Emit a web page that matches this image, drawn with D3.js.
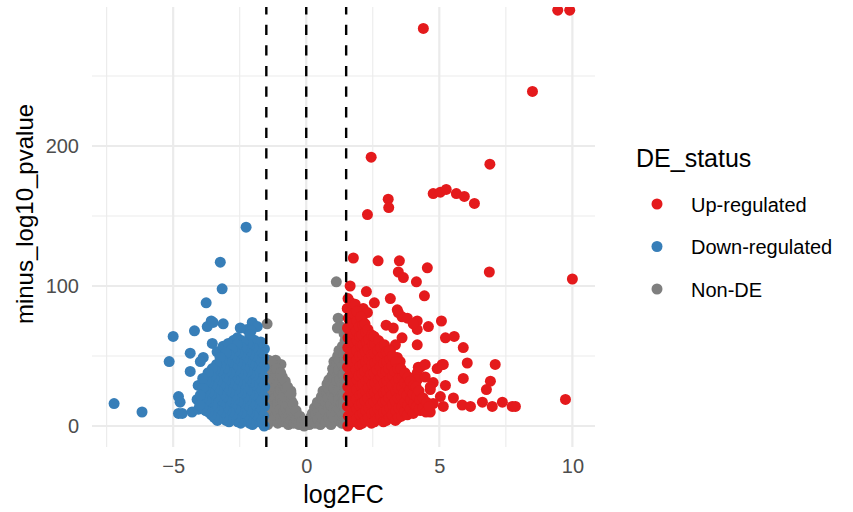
<!DOCTYPE html>
<html>
<head>
<meta charset="utf-8">
<script src="https://cdn.jsdelivr.net/npm/d3@7"></script>
<style>
  body { margin: 0; background: #fff; }
  svg { display: block; font-family: "Liberation Sans", Arial, sans-serif; }
</style>
</head>
<body>
<svg id="chart" width="853" height="512"></svg>
<script>
// values: [log2FC, minus_log10_pvalue]
const up_regulated = [
  [4.4,284],[9.45,297],[9.9,297],[8.5,239],[2.44,192],[6.9,187],[3.08,162],[3.1,156],[2.3,151],
  [4.77,166],[5.04,167],[5.26,169],[5.64,166],[5.94,164],[6.32,159],
  [1.77,120],[2.7,118],[3.5,118],[3.46,110],[3.65,106],[4.14,103],[4.55,113],[6.88,110],[10.0,105],
  [1.65,100],[2.26,96],[3.16,91],[4.44,93],[2.56,88],[1.54,84],[2.14,84],[2.3,81],[2.1,76],[3.46,81],
  [3.6,78],[4.17,75],[5.08,75],[4.59,71],[3.0,72],[1.65,74],[3.42,83],[3.8,77],[4.17,69],[4.02,73],
  [3.27,70],[3.6,63],[3.35,58],[3.16,54],[2.78,56],[3.42,49],[3.53,46],[4.21,42],[4.17,38],[3.46,39],[3.53,34],
  [5.23,63],[5.56,64],[5.9,56],[4.17,58],[6.05,45],[7.1,44],[5.11,44],[5.9,34],[6.92,32],[6.77,26],[9.74,19],
  [5.53,20],[5.86,15],[6.17,14],[6.62,17],[6.99,14],[7.37,17],[7.74,14],[7.86,14],[5.15,14],[5.23,29],
  [4.92,41],[5.15,44],[4.29,42],[4.47,44],[4.77,31],[4.66,28],[4.17,33],[4.47,35],[4.66,26],
  [4.02,20],[4.4,17],[4.77,16],[5.04,21],[4.29,11],[4.66,10],
  [1.56,0],[1.58,7],[1.55,14],[1.57,21],[1.56,28],[1.59,35],[1.55,42],[1.58,49],[1.56,56],[1.57,63],[1.55,70],[1.58,77],[1.56,84],[1.57,91],
  [1.67,4],[1.68,11],[1.66,18],[1.67,25],[1.69,32],[1.66,39],[1.68,46],[1.67,53],[1.69,60],[1.66,67],[1.68,74],[1.67,81],[1.69,88],
  [1.78,3],[1.8,10],[1.77,17],[1.79,24],[1.81,31],[1.76,38],[1.8,45],[1.78,52],[1.82,59],[1.79,66],[1.77,73],[1.81,80],[1.84,87],
  [1.89,5],[1.9,12],[1.88,19],[1.89,26],[1.91,33],[1.88,40],[1.9,47],[1.89,54],[1.91,61],[1.88,68],[1.9,75],[1.89,82],
  [2.0,1],[2.02,8],[1.99,15],[2.01,22],[2.03,29],[1.98,36],[2.02,43],[2.0,50],[2.04,57],[2.01,64],[1.99,71],[2.05,78],
  [2.11,2],[2.12,9],[2.1,16],[2.11,23],[2.13,30],[2.1,37],[2.12,44],[2.11,51],[2.13,58],[2.1,65],[2.12,72],
  [2.22,4],[2.24,11],[2.21,18],[2.23,25],[2.25,32],[2.2,39],[2.24,46],[2.22,53],[2.26,60],[2.23,67],[2.21,73],
  [2.33,6],[2.34,13],[2.32,20],[2.33,27],[2.35,34],[2.32,41],[2.34,48],[2.33,55],[2.35,62],[2.32,69],
  [2.45,2],[2.47,9],[2.44,16],[2.46,23],[2.48,30],[2.43,37],[2.47,44],[2.45,51],[2.49,58],[2.46,65],
  [2.56,3],[2.57,10],[2.55,17],[2.56,24],[2.58,31],[2.55,38],[2.57,45],[2.56,52],[2.58,59],[2.55,64],
  [2.68,5],[2.7,12],[2.67,19],[2.69,26],[2.71,33],[2.66,40],[2.7,47],[2.68,54],[2.72,61],
  [2.79,7],[2.8,14],[2.78,21],[2.79,28],[2.81,35],[2.78,42],[2.8,49],[2.79,56],
  [2.9,3],[2.92,10],[2.89,17],[2.91,24],[2.93,31],[2.88,38],[2.92,45],[2.9,52],[2.94,58],
  [3.01,4],[3.02,11],[3.0,18],[3.01,25],[3.03,32],[3.0,39],[3.02,46],[3.01,53],
  [3.12,6],[3.14,13],[3.11,20],[3.13,27],[3.15,34],[3.1,41],[3.14,48],[3.12,54],
  [3.23,8],[3.24,15],[3.22,22],[3.23,29],[3.25,36],[3.22,43],[3.24,50],
  [3.35,4],[3.37,11],[3.34,18],[3.36,25],[3.38,32],[3.33,39],[3.37,46],
  [3.46,6],[3.47,13],[3.45,20],[3.46,27],[3.48,34],[3.45,41],
  [3.58,7],[3.6,14],[3.57,21],[3.59,28],[3.61,35],[3.56,41],
  [3.69,10],[3.7,17],[3.68,24],[3.69,31],[3.71,38],
  [3.8,8],[3.82,15],[3.79,22],[3.81,29],[3.83,35],
  [3.91,12],[3.92,19],[3.9,26],[3.91,32],
  [4.02,9],[4.04,16],[4.01,23],[4.03,29],
  [4.14,14],[4.15,21],[4.13,28],
  [4.25,12],[4.27,19],[4.24,25],
  [4.38,13],[4.39,20],
  [4.5,10],[4.52,17],[4.62,14]
]

const down_regulated = [
  [-2.26,142],[-3.23,117],[-3.16,98],[-3.76,88],[-3.57,75],[-3.72,71],[-3.12,73],[-4.2,68],[-5.0,64],
  [-5.15,46],[-4.36,52],[-4.36,39],[-7.22,16],[-6.17,10],[-4.8,21],[-4.74,17],[-4.8,9],[-4.66,9],[-4.29,10],
  [-2.03,74],[-1.84,71],[-2.22,69],[-2.48,70],[-2.59,63],[-2.74,61],[-3.53,59],[-3.35,53],[-3.12,57],
  [-3.16,49],[-1.84,58],[-3.87,49],[-4.06,29],[-3.5,74],[-2.07,68],[-2.44,61],[-2.93,59],[-3.98,46],
  [-4.1,19],[-4.05,12],
  [-1.58,0],[-1.6,7],[-1.57,14],[-1.59,21],[-1.56,28],[-1.61,35],[-1.58,42],[-1.6,49],[-1.57,55],
  [-1.69,4],[-1.7,11],[-1.68,18],[-1.69,25],[-1.71,32],[-1.68,39],[-1.7,46],[-1.69,53],[-1.71,60],
  [-1.8,3],[-1.78,10],[-1.82,17],[-1.79,24],[-1.81,31],[-1.77,38],[-1.83,45],[-1.8,52],[-1.84,58],
  [-1.91,5],[-1.92,12],[-1.9,19],[-1.91,26],[-1.93,33],[-1.9,40],[-1.92,47],[-1.91,54],[-1.93,61],
  [-2.02,1],[-2.0,8],[-2.04,15],[-2.01,22],[-2.03,29],[-1.99,36],[-2.05,43],[-2.02,50],[-2.0,56],[-2.06,62],
  [-2.13,2],[-2.14,9],[-2.12,16],[-2.13,23],[-2.15,30],[-2.12,37],[-2.14,44],[-2.13,51],[-2.15,57],[-2.12,65],
  [-2.24,4],[-2.22,11],[-2.26,18],[-2.23,25],[-2.25,32],[-2.21,39],[-2.27,46],[-2.24,53],[-2.2,59],
  [-2.35,6],[-2.36,13],[-2.34,20],[-2.35,27],[-2.37,34],[-2.34,41],[-2.36,48],[-2.35,55],[-2.37,60],
  [-2.46,2],[-2.44,9],[-2.48,16],[-2.45,23],[-2.47,30],[-2.43,37],[-2.49,44],[-2.46,51],[-2.42,56],
  [-2.57,3],[-2.58,10],[-2.56,17],[-2.57,24],[-2.59,31],[-2.56,38],[-2.58,45],[-2.57,52],[-2.59,58],
  [-2.68,5],[-2.66,12],[-2.7,19],[-2.67,26],[-2.69,33],[-2.65,40],[-2.71,47],[-2.68,53],
  [-2.79,7],[-2.8,14],[-2.78,21],[-2.79,28],[-2.81,35],[-2.78,42],[-2.8,49],[-2.79,55],
  [-2.9,3],[-2.88,10],[-2.92,17],[-2.89,24],[-2.91,31],[-2.87,38],[-2.93,45],[-2.9,51],
  [-3.01,4],[-3.02,11],[-3.0,18],[-3.01,25],[-3.03,32],[-3.0,39],[-3.02,46],[-3.01,52],
  [-3.12,6],[-3.1,13],[-3.14,20],[-3.11,27],[-3.13,34],[-3.09,41],[-3.15,47],
  [-3.23,8],[-3.24,15],[-3.22,22],[-3.23,29],[-3.25,36],[-3.22,43],[-3.24,49],
  [-3.34,4],[-3.32,11],[-3.36,18],[-3.33,25],[-3.35,32],[-3.31,39],[-3.37,44],
  [-3.45,6],[-3.46,13],[-3.44,20],[-3.45,27],[-3.47,34],[-3.44,40],
  [-3.56,8],[-3.54,15],[-3.58,22],[-3.55,29],[-3.57,36],[-3.53,41],
  [-3.67,10],[-3.68,17],[-3.66,24],[-3.67,31],[-3.69,38],
  [-3.78,11],[-3.76,18],[-3.8,25],[-3.77,32],
  [-3.89,13],[-3.9,20],[-3.88,27],[-3.89,34],
  [-4.0,15],[-3.98,22]
]

const non_de = [
  [-1.47,73],[1.13,103],[1.2,77],[1.28,71],[1.17,70],[1.42,66],[-0.95,44],[-1.15,47],[-0.58,25],
  [-1.45,1],[-1.47,8],[-1.44,15],[-1.46,22],[-1.43,29],[-1.47,36],[-1.44,42],[-1.42,47],
  [-1.36,5],[-1.37,12],[-1.35,19],[-1.36,26],[-1.38,33],[-1.35,40],[-1.37,46],
  [-1.27,4],[-1.25,11],[-1.28,18],[-1.24,25],[-1.26,32],[-1.23,39],[-1.28,45],
  [-1.17,6],[-1.18,13],[-1.16,20],[-1.17,27],[-1.19,34],[-1.16,40],
  [-1.07,2],[-1.05,9],[-1.08,16],[-1.04,23],[-1.06,30],[-1.09,36],[-1.12,41],
  [-0.97,5],[-0.98,12],[-0.96,19],[-0.97,26],[-0.99,33],[-0.96,38],
  [-0.87,3],[-0.85,10],[-0.88,17],[-0.84,24],[-0.86,30],[-0.9,35],
  [-0.77,6],[-0.78,13],[-0.76,20],[-0.77,27],[-0.79,32],
  [-0.67,1],[-0.65,8],[-0.68,15],[-0.63,22],[-0.7,28],
  [-0.57,4],[-0.58,11],[-0.56,18],[-0.57,23],
  [-0.47,2],[-0.45,9],[-0.5,16],
  [-0.37,5],[-0.38,11],
  [-0.27,1],[-0.24,7],
  [-0.17,3],
  [-0.08,0],[-0.02,2],[0.03,1],
  [0.12,1],[0.16,6],
  [0.22,4],[0.23,9],
  [0.33,2],[0.35,8],[0.31,13],
  [0.43,5],[0.44,11],[0.42,17],
  [0.53,1],[0.55,8],[0.52,15],[0.57,21],
  [0.63,5],[0.64,12],[0.62,19],[0.63,25],
  [0.73,3],[0.75,10],[0.72,17],[0.76,24],[0.78,30],
  [0.83,6],[0.84,13],[0.82,20],[0.83,27],[0.85,33],
  [0.93,1],[0.95,8],[0.92,15],[0.96,22],[0.94,29],[0.97,36],[0.99,41],
  [1.03,6],[1.04,13],[1.02,20],[1.03,27],[1.05,34],[1.02,40],[1.04,46],
  [1.13,4],[1.15,11],[1.12,18],[1.16,25],[1.14,32],[1.17,39],[1.15,45],[1.18,50],
  [1.23,5],[1.24,12],[1.22,19],[1.23,26],[1.25,33],[1.22,40],[1.24,47],[1.23,54],
  [1.33,2],[1.35,9],[1.32,16],[1.36,23],[1.34,30],[1.37,37],[1.35,44],[1.38,51],[1.36,57],
  [1.41,2],[1.42,9],[1.4,16],[1.41,23],[1.43,30],[1.4,37],[1.42,44],[1.41,51],[1.43,58],
  [1.46,5],[1.47,12],[1.45,19],[1.48,26],[1.46,33],[1.47,40],[1.45,47],[1.48,54],[1.46,61]
]

const status_names = ["Up-regulated", "Down-regulated", "Non-DE"]
const status_colors = ["#E41A1C", "#377EB8", "#7F7F7F"]
const cutoff_lines = [-1.5, 0, 1.5]
const x_ticks = [-5, 0, 5, 10]
const x_minor = [-7.5, -2.5, 2.5, 7.5]
const y_ticks = [0, 100, 200]
const y_minor = [50, 150, 250]

//panel box in pixels
const panel = {left: 92, right: 595, top: 7, bottom: 447}
const point_r = 5.5

const svg = d3.select("#chart")

const x = d3.scaleLinear().domain([-8.05, 10.85]).range([panel.left, panel.right])
const y = d3.scaleLinear().domain([-15, 299.3]).range([panel.bottom, panel.top])
const color = d3.scaleOrdinal().domain(status_names).range(status_colors)

svg.append("clipPath").attr("id", "panel-clip")
    .append("rect")
    .attr("x", panel.left).attr("y", panel.top)
    .attr("width", panel.right - panel.left)
    .attr("height", panel.bottom - panel.top)

//grid lines, minor first then major
const grid = svg.append("g")
grid.selectAll(".vminor").data(x_minor).join("line")
    .attr("x1", d => x(d)).attr("x2", d => x(d))
    .attr("y1", panel.top).attr("y2", panel.bottom)
    .attr("stroke", "#EBEBEB").attr("stroke-width", 1.1)
grid.selectAll(".hminor").data(y_minor).join("line")
    .attr("y1", d => y(d)).attr("y2", d => y(d))
    .attr("x1", panel.left).attr("x2", panel.right)
    .attr("stroke", "#EBEBEB").attr("stroke-width", 1.1)
grid.selectAll(".vmajor").data(x_ticks).join("line")
    .attr("x1", d => x(d)).attr("x2", d => x(d))
    .attr("y1", panel.top).attr("y2", panel.bottom)
    .attr("stroke", "#EBEBEB").attr("stroke-width", 2.2)
grid.selectAll(".hmajor").data(y_ticks).join("line")
    .attr("y1", d => y(d)).attr("y2", d => y(d))
    .attr("x1", panel.left).attr("x2", panel.right)
    .attr("stroke", "#EBEBEB").attr("stroke-width", 2.2)

//points: non-DE underneath, then down, then up
const points = svg.append("g").attr("clip-path", "url(#panel-clip)")
const groups = [
    {name: "Non-DE", rows: non_de},
    {name: "Down-regulated", rows: down_regulated},
    {name: "Up-regulated", rows: up_regulated}
]
for(const g of groups){
    points.append("g").selectAll("circle").data(g.rows).join("circle")
        .attr("cx", d => x(d[0]))
        .attr("cy", d => y(d[1]))
        .attr("r", point_r)
        .attr("fill", color(g.name))
}

//fold change cut-offs
svg.append("g").selectAll("line").data(cutoff_lines).join("line")
    .attr("x1", d => x(d)).attr("x2", d => x(d))
    .attr("y1", panel.bottom).attr("y2", panel.top)
    .attr("stroke", "#000").attr("stroke-width", 2.4)
    .attr("stroke-dasharray", "10.3,10.3")

//axes (ticks hidden, labels only)
const x_axis = svg.append("g")
    .attr("transform", `translate(0,${panel.bottom})`)
    .call(d3.axisBottom(x).tickValues(x_ticks).tickSize(0).tickPadding(12))
const y_axis = svg.append("g")
    .attr("transform", `translate(${panel.left},0)`)
    .call(d3.axisLeft(y).tickValues(y_ticks).tickSize(0).tickPadding(13))
for(const a of [x_axis, y_axis]){
    a.select(".domain").remove()
    a.selectAll("text")
        .attr("fill", "#4D4D4D")
        .style("font-size", "20px")
        .style("font-family", "'Liberation Sans', Arial, sans-serif")
}

svg.append("text")
    .attr("x", (panel.left + panel.right) / 2).attr("y", 503)
    .attr("text-anchor", "middle")
    .style("font-size", "25px")
    .text("log2FC")

svg.append("text")
    .attr("transform", "translate(33,214) rotate(-90)")
    .attr("text-anchor", "middle")
    .style("font-size", "24px")
    .text("minus_log10_pvalue")

//legend
const legend = svg.append("g")
legend.append("text")
    .attr("x", 636).attr("y", 167)
    .style("font-size", "25px")
    .text("DE_status")
const item = legend.selectAll(".item").data(status_names).join("g")
    .attr("transform", (d, i) => `translate(0,${204 + i * 42.5})`)
item.append("circle")
    .attr("cx", 657).attr("cy", 0).attr("r", point_r)
    .attr("fill", d => color(d))
item.append("text")
    .attr("x", 691).attr("y", 7.5)
    .style("font-size", "20px")
    .text(d => d)
</script>
</body>
</html>
